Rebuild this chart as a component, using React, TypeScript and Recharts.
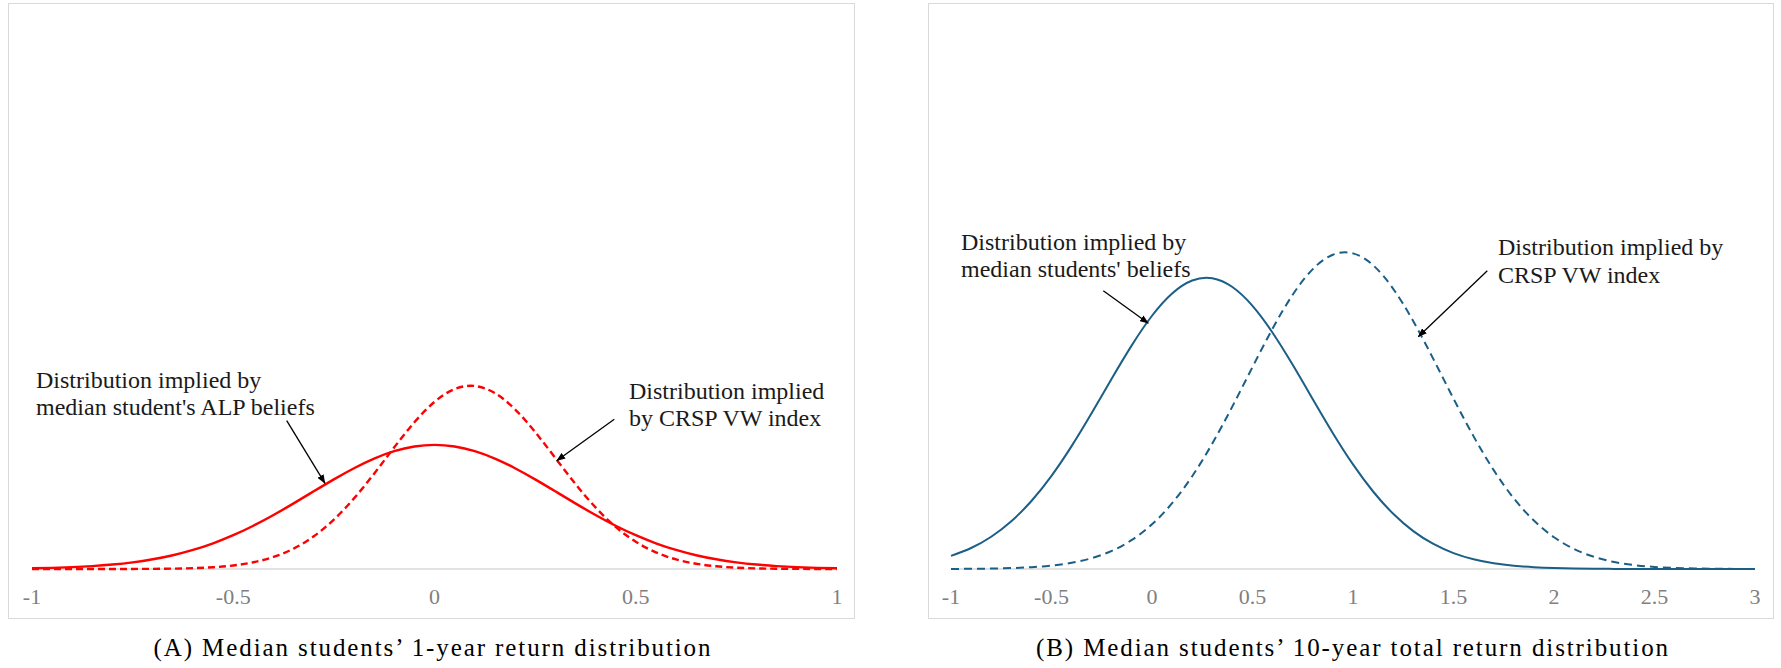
import React from 'react';
import { LineChart, Line, XAxis, YAxis, CartesianGrid } from 'recharts';

// ---------- Panel A: 1-year return distribution ----------
const xA = [
  -1, -0.95, -0.9, -0.85, -0.8, -0.75, -0.7, -0.65, -0.6, -0.55, -0.5,
  -0.45, -0.4, -0.35, -0.3, -0.25, -0.2, -0.15, -0.1, -0.05, 0,
  0.05, 0.1, 0.15, 0.2, 0.25, 0.3, 0.35, 0.4, 0.45, 0.5,
  0.55, 0.6, 0.65, 0.7, 0.75, 0.8, 0.85, 0.9, 0.95, 1,
];
const beliefA = [
  0.0071, 0.0118, 0.019, 0.03, 0.0461, 0.0689, 0.1006, 0.1429, 0.1979, 0.2668, 0.3506,
  0.4488, 0.5598, 0.6804, 0.8058, 0.9297, 1.0452, 1.1448, 1.2218, 1.2704, 1.287,
  1.2704, 1.2218, 1.1448, 1.0452, 0.9297, 0.8058, 0.6804, 0.5598, 0.4488, 0.3506,
  0.2668, 0.1979, 0.1429, 0.1006, 0.0689, 0.0461, 0.03, 0.019, 0.0118, 0.0071,
];
const crspA = [
  0, 0, 0, 0.0001, 0.0002, 0.0006, 0.0016, 0.0038, 0.0086, 0.0183, 0.0367,
  0.0697, 0.1249, 0.2116, 0.3388, 0.5123, 0.7323, 0.9888, 1.2618, 1.5213, 1.7334,
  1.8658, 1.8979, 1.824, 1.6564, 1.4214, 1.1524, 0.8829, 0.6392, 0.4372, 0.2825,
  0.1725, 0.0995, 0.0543, 0.028, 0.0136, 0.0063, 0.0027, 0.0011, 0.0004, 0.0002,
];
const ticksA = [-1, -0.5, 0, 0.5, 1];

// ---------- Panel B: 10-year total return distribution ----------
const xB = [
  -1, -0.9, -0.8, -0.7, -0.6, -0.5, -0.4, -0.3, -0.2, -0.1, 0,
  0.1, 0.2, 0.3, 0.4, 0.5, 0.6, 0.7, 0.8, 0.9, 1,
  1.1, 1.2, 1.3, 1.4, 1.5, 1.6, 1.7, 1.8, 1.9, 2,
  2.1, 2.2, 2.3, 2.4, 2.5, 2.6, 2.7, 2.8, 2.9, 3,
];
const beliefB = [
  0.0352, 0.0563, 0.0866, 0.1282, 0.1826, 0.2502, 0.33, 0.4189, 0.5116, 0.6012, 0.68,
  0.7399, 0.7748, 0.7809, 0.7572, 0.7066, 0.6344, 0.5482, 0.4559, 0.3647, 0.2808,
  0.2081, 0.1483, 0.1018, 0.0672, 0.0427, 0.0261, 0.0153, 0.0087, 0.0047, 0.0025,
  0.0013, 0.0006, 0.0003, 0.0001, 0.0001, 0, 0, 0, 0, 0,
];
const crspB = [
  0.0002, 0.0005, 0.0012, 0.0024, 0.0048, 0.0092, 0.0167, 0.0291, 0.0487, 0.0781, 0.1199,
  0.1766, 0.2492, 0.3369, 0.4366, 0.5423, 0.6456, 0.7365, 0.8053, 0.8439, 0.8475,
  0.8157, 0.7524, 0.6652, 0.5636, 0.4575, 0.3561, 0.2655, 0.1897, 0.13, 0.0853,
  0.0537, 0.0324, 0.0187, 0.0104, 0.0055, 0.0028, 0.0014, 0.0006, 0.0003, 0.0001,
];
const ticksB = [-1, -0.5, 0, 0.5, 1, 1.5, 2, 2.5, 3];

const captionA = '(A) Median students\u2019 1-year return distribution';
const captionB = '(B) Median students\u2019 10-year total return distribution';

const dataA = xA.map((x, i) => ({ x, belief: beliefA[i], crsp: crspA[i] }));
const dataB = xB.map((x, i) => ({ x, belief: beliefB[i], crsp: crspB[i] }));

const SERIF = '"Liberation Serif", "Times New Roman", serif';
const RED = '#ff0000';
const BLUE = '#1b5f86';
const GRID = '#d9d9d9';

const tickStyle = { fill: '#7f7f7f', fontSize: 22, fontFamily: SERIF };

function Panel(props: {
  left: number; width: number; data: any[]; domainX: number[]; ticks: number[];
  yMax: number; color: string; margin: any; sw: number; dash: string;
}) {
  const { left, width, data, domainX, ticks, yMax, color, margin, sw, dash } = props;
  return (
    <div style={{ position: 'absolute', left, top: 3, width, height: 616 }}>
      <LineChart width={width} height={616} data={data} margin={margin}>
        <CartesianGrid vertical={false} horizontalValues={[0]} stroke={GRID} strokeWidth={1.5} strokeDasharray="" />
        <XAxis
          dataKey="x"
          type="number"
          domain={domainX}
          ticks={ticks}
          interval={0}
          tickLine={false}
          tickSize={0}
          tickMargin={19}
          height={30}
          axisLine={false}
          tick={tickStyle}
          tickFormatter={(v: number) => String(v)}
        />
        <YAxis hide domain={[0, yMax]} type="number" />
        <Line
          dataKey="belief"
          type="natural"
          stroke={color}
          strokeWidth={sw}
          dot={false}
          activeDot={false}
          isAnimationActive={false}
        />
        <Line
          dataKey="crsp"
          type="natural"
          stroke={color}
          strokeWidth={sw}
          strokeDasharray={dash}
          dot={false}
          activeDot={false}
          isAnimationActive={false}
        />
      </LineChart>
    </div>
  );
}

export default function App() {
  const ann = { fontFamily: SERIF, fontSize: 24, fill: '#1a1a1a' } as const;
  const arrow = { stroke: '#000', strokeWidth: 1.3, markerEnd: 'url(#ah)' } as const;
  return (
    <div style={{ position: 'absolute', left: 0, top: 0, width: 1781, height: 668, background: '#fff' }}>
      <div style={{ position: 'absolute', left: 8, top: 3, width: 847, height: 616, border: `1px solid ${GRID}`, boxSizing: 'border-box' }} />
      <div style={{ position: 'absolute', left: 928, top: 3, width: 846, height: 616, border: `1px solid ${GRID}`, boxSizing: 'border-box' }} />
      <Panel
        left={8}
        width={847}
        data={dataA}
        domainX={[-1, 1]}
        ticks={ticksA}
        yMax={5.6}
        color={RED}
        sw={2.4}
        dash="7 4"
        margin={{ top: 26, right: 18, bottom: 20, left: 24 }}
      />
      <Panel
        left={928}
        width={846}
        data={dataB}
        domainX={[-1, 3]}
        ticks={ticksB}
        yMax={1.45}
        color={BLUE}
        sw={2}
        dash="8 5"
        margin={{ top: 26, right: 19, bottom: 20, left: 23 }}
      />
      <svg width={1781} height={668} style={{ position: 'absolute', left: 0, top: 0, pointerEvents: 'none' }}>
        <defs>
          <marker id="ah" markerWidth="9" markerHeight="7" refX="8.5" refY="3.5" orient="auto" markerUnits="userSpaceOnUse">
            <path d="M0,0 L9,3.5 L0,7 z" fill="#000" />
          </marker>
        </defs>
        {/* Panel A annotations */}
        <text x={36} y={387.5} {...ann}>Distribution implied by</text>
        <text x={36} y={415} {...ann}>median student's ALP beliefs</text>
        <line x1={286.7} y1={420.7} x2={325} y2={483.3} {...arrow} />
        <text x={629} y={398.5} {...ann}>Distribution implied</text>
        <text x={629} y={426} {...ann}>by CRSP VW index</text>
        <line x1={614.3} y1={419.3} x2={556.7} y2={460.7} {...arrow} />
        {/* Panel B annotations */}
        <text x={961} y={249.5} {...ann}>Distribution implied by</text>
        <text x={961} y={277} {...ann}>median students' beliefs</text>
        <line x1={1103.3} y1={290.7} x2={1148.3} y2={323.3} {...arrow} />
        <text x={1498} y={255} {...ann}>Distribution implied by</text>
        <text x={1498} y={283} {...ann}>CRSP VW index</text>
        <line x1={1487.3} y1={270.7} x2={1418.3} y2={336.7} {...arrow} />
        {/* Captions */}
        <text x={433} y={656} textAnchor="middle" fontFamily={SERIF} fontSize={25} letterSpacing={1.9} fill="#000">{captionA}</text>
        <text x={1353} y={656} textAnchor="middle" fontFamily={SERIF} fontSize={25} letterSpacing={1.9} fill="#000">{captionB}</text>
      </svg>
    </div>
  );
}
